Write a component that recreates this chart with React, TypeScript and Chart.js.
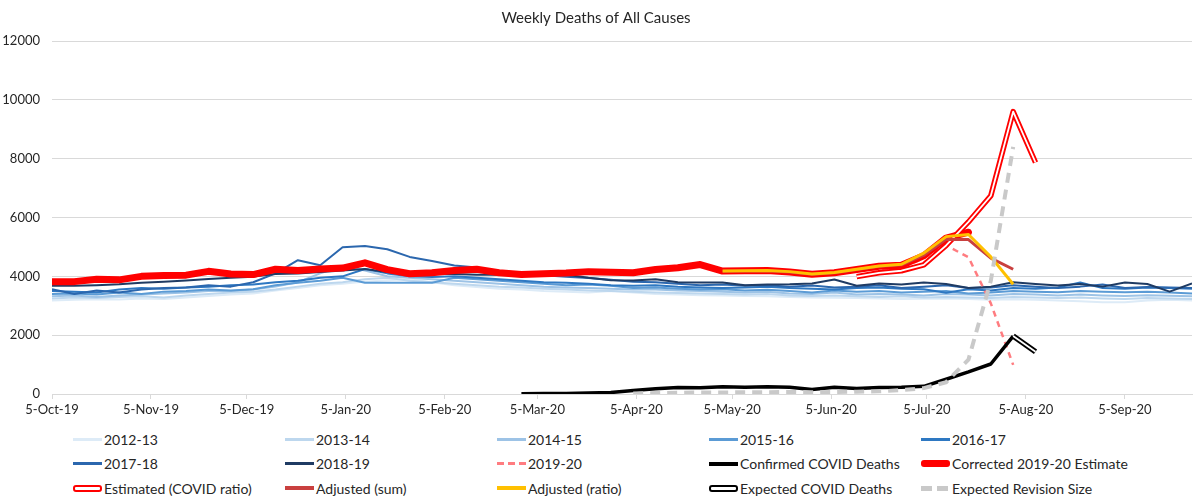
import { useEffect, useRef } from "react";
import { Chart, registerables, ChartConfiguration } from "chart.js";

Chart.register(...registerables);

const weekDates = [
  "2019-10-05", "2019-10-12", "2019-10-19", "2019-10-26",
  "2019-11-02", "2019-11-09", "2019-11-16", "2019-11-23", "2019-11-30",
  "2019-12-07", "2019-12-14", "2019-12-21", "2019-12-28",
  "2020-01-04", "2020-01-11", "2020-01-18", "2020-01-25",
  "2020-02-01", "2020-02-08", "2020-02-15", "2020-02-22", "2020-02-29",
  "2020-03-07", "2020-03-14", "2020-03-21", "2020-03-28",
  "2020-04-04", "2020-04-11", "2020-04-18", "2020-04-25",
  "2020-05-02", "2020-05-09", "2020-05-16", "2020-05-23", "2020-05-30",
  "2020-06-06", "2020-06-13", "2020-06-20", "2020-06-27",
  "2020-07-04", "2020-07-11", "2020-07-18", "2020-07-25",
  "2020-08-01", "2020-08-08", "2020-08-15", "2020-08-22", "2020-08-29",
  "2020-09-05", "2020-09-12", "2020-09-19", "2020-09-26",
];

const tickDates = [
  "2019-10-05", "2019-11-05", "2019-12-05", "2020-01-05", "2020-02-05", "2020-03-05",
  "2020-04-05", "2020-05-05", "2020-06-05", "2020-07-05", "2020-08-05", "2020-09-05",
];
const tickLabels = [
  "5-Oct-19", "5-Nov-19", "5-Dec-19", "5-Jan-20", "5-Feb-20", "5-Mar-20",
  "5-Apr-20", "5-May-20", "5-Jun-20", "5-Jul-20", "5-Aug-20", "5-Sep-20",
];

// prior seasons, one value per week (52)
const y1213 = [
  3180, 3200, 3220, 3210, 3250, 3230, 3280, 3330, 3380, 3420,
  3520, 3600, 3700, 3750, 3820, 3870, 3900, 3800, 3700, 3640,
  3580, 3550, 3500, 3480, 3450, 3500, 3450, 3400, 3380, 3360,
  3350, 3330, 3320, 3300, 3280, 3270, 3260, 3250, 3230, 3240,
  3250, 3230, 3200, 3220, 3200, 3180, 3150, 3120, 3120, 3180, 3200, 3180,
];
const y1314 = [
  3250, 3280, 3260, 3300, 3320, 3280, 3350, 3400, 3450, 3480,
  3550, 3650, 3750, 3800, 3900, 3950, 3850, 3800, 3750, 3700,
  3650, 3620, 3580, 3550, 3520, 3500, 3480, 3450, 3430, 3420,
  3400, 3380, 3400, 3350, 3330, 3350, 3320, 3300, 3320, 3280,
  3300, 3280, 3260, 3300, 3280, 3260, 3280, 3250, 3230, 3260, 3250, 3230,
];
const y1415 = [
  3320, 3350, 3300, 3350, 3380, 3420, 3450, 3500, 3500, 3550,
  3650, 3800, 4100, 4350, 4200, 4000, 3950, 3900, 3850, 3800,
  3750, 3700, 3650, 3620, 3600, 3580, 3550, 3550, 3520, 3500,
  3480, 3450, 3480, 3420, 3400, 3450, 3380, 3400, 3380, 3350,
  3400, 3380, 3350, 3400, 3380, 3350, 3380, 3350, 3330, 3360, 3340, 3320,
];
const y1516 = [
  3400, 3420, 3380, 3450, 3400, 3480, 3500, 3550, 3520, 3560,
  3700, 3780, 3850, 3950, 3780, 3780, 3780, 3780, 3950, 3900,
  3850, 3800, 3750, 3700, 3720, 3680, 3600, 3620, 3580, 3550,
  3560, 3520, 3540, 3500, 3450, 3520, 3480, 3500, 3450, 3480,
  3500, 3420, 3450, 3500, 3480, 3460, 3500, 3480, 3460, 3480, 3450, 3420,
];
const y1617 = [
  3500, 3480, 3450, 3550, 3600, 3580, 3620, 3650, 3700, 3720,
  3800, 3850, 3950, 4000, 4250, 4100, 4000, 3980, 4000, 3950,
  3900, 3850, 3800, 3780, 3750, 3700, 3680, 3700, 3650, 3620,
  3600, 3620, 3650, 3600, 3580, 3550, 3600, 3620, 3580, 3560,
  3440, 3560, 3520, 3600, 3580, 3620, 3790, 3600, 3580, 3620, 3600, 3580,
];
const y1718 = [
  3560, 3400, 3520, 3450, 3550, 3600, 3620, 3700, 3650, 3800,
  4100, 4550, 4380, 4990, 5030, 4920, 4660, 4520, 4370, 4300,
  4160, 4100, 4040, 3990, 3940, 3880, 3820, 3800, 3750, 3700,
  3720, 3680, 3700, 3650, 3690, 3620, 3650, 3700, 3600, 3650,
  3700, 3600, 3620, 3700, 3650, 3600, 3650, 3720, 3600, 3640, 3620, 3600,
];
const y1819 = [
  3680, 3680, 3700, 3730, 3780, 3820, 3860, 3910, 3950, 3990,
  4080, 4100, 4150, 4200, 4250, 4150, 4100, 4080, 4080, 4050,
  4050, 4080, 4150, 4050, 3950, 3870, 3860, 3900, 3800, 3790,
  3790, 3700, 3720, 3730, 3760, 3890, 3680, 3760, 3720, 3790,
  3740, 3600, 3650, 3800, 3740, 3690, 3740, 3650, 3790, 3740, 3480, 3760,
];

// current season, starting at week 0
const y1920 = [
  3800, 3810, 3880, 3870, 3980, 4010, 4030, 4150, 4070, 4050,
  4220, 4190, 4240, 4260, 4440, 4220, 4080, 4100, 4190, 4230,
  4110, 4050, 4080, 4100, 4150, 4130, 4100, 4210, 4270, 4380,
  4160, 4170, 4180, 4130, 4050, 4090, 4190, 4250, 4280, 4620,
  5050, 4650, 3080, 990,
];
const corrected = [
  3820, 3820, 3900, 3880, 4000, 4030, 4040, 4170, 4080, 4060,
  4240, 4200, 4250, 4280, 4460, 4230, 4090, 4120, 4200, 4240,
  4120, 4060, 4090, 4110, 4160, 4140, 4120, 4230, 4290, 4400,
  4180, 4190, 4200, 4150, 4070, 4120, 4230, 4340, 4380, 4700,
  5300, 5500,
];

// partial series: first week index + values
const confirmedStart = 21;
const confirmed = [
  10, 15, 20, 30, 50, 120, 180, 220, 210, 250, 230, 250,
  230, 150, 230, 190, 220, 230, 260, 500, 750, 1020, 1970,
];
const estimatedStart = 36;
const estimated = [3990, 4120, 4190, 4390, 5050, 5850, 6740, 9600, 7870];
const adjustedStart = 30;
const adjustedSum = [4170, 4180, 4190, 4150, 4070, 4120, 4230, 4340, 4390, 4720, 5260, 5250, 4620, 4240];
const adjustedRatio = [4180, 4190, 4200, 4160, 4080, 4130, 4240, 4350, 4410, 4790, 5350, 5420, 4660, 3730];
const expectedStart = 43;
const expectedCovid = [1970, 1440];
const revisionStart = 26;
const revision = [20, 30, 40, 50, 50, 60, 60, 70, 60, 70, 80, 90, 130, 200, 400, 1170, 3850, 8400];

const DAY = 86400000;
const dayOf = (d: string) => Math.round((Date.parse(d) - Date.parse(weekDates[0])) / DAY);

const pad = (start: number, vals: number[]) => {
  const out: (number | null)[] = weekDates.map(() => null);
  vals.forEach((v, i) => (out[start + i] = v));
  return out;
};
const toPoints = (vals: (number | null)[]) =>
  vals.map((v, i) => ({ x: dayOf(weekDates[i]), y: v }));

type Swatch = "line" | "dash" | "double" | "thick" | "gdash";
interface Item {
  label: string;
  color: string;
  swatch: Swatch;
  width: number;
}

const legendItems: Item[] = [
  { label: "2012-13", color: "#DDEBF7", swatch: "line", width: 3 },
  { label: "2013-14", color: "#BDD7EE", swatch: "line", width: 3 },
  { label: "2014-15", color: "#9DC3E6", swatch: "line", width: 3 },
  { label: "2015-16", color: "#5B9BD5", swatch: "line", width: 3 },
  { label: "2016-17", color: "#2E78C2", swatch: "line", width: 3 },
  { label: "2017-18", color: "#2B67AE", swatch: "line", width: 3 },
  { label: "2018-19", color: "#1F3B63", swatch: "line", width: 3 },
  { label: "2019-20", color: "#FF7C80", swatch: "dash", width: 3 },
  { label: "Confirmed COVID Deaths", color: "#000000", swatch: "line", width: 4 },
  { label: "Corrected 2019-20 Estimate", color: "#FF0000", swatch: "thick", width: 7 },
  { label: "Estimated (COVID ratio)", color: "#FF0000", swatch: "double", width: 7 },
  { label: "Adjusted (sum)", color: "#C9403F", swatch: "line", width: 4 },
  { label: "Adjusted (ratio)", color: "#FFC000", swatch: "line", width: 4 },
  { label: "Expected COVID Deaths", color: "#000000", swatch: "double", width: 7 },
  { label: "Expected Revision Size", color: "#C9C9C9", swatch: "gdash", width: 5 },
];

const SwatchBox = ({ it }: { it: Item }) => {
  const base: React.CSSProperties = { width: 29, height: it.width, flex: "none" };
  if (it.swatch === "dash")
    return <div style={{ ...base, background: `repeating-linear-gradient(to right, ${it.color} 0 7px, transparent 7px 11px)` }} />;
  if (it.swatch === "gdash")
    return <div style={{ ...base, background: `repeating-linear-gradient(to right, ${it.color} 0 11px, transparent 11px 16px)` }} />;
  if (it.swatch === "double")
    return <div style={{ ...base, boxSizing: "border-box", border: `2px solid ${it.color}`, background: "#fff", borderRadius: 3 }} />;
  if (it.swatch === "thick") return <div style={{ ...base, background: it.color, borderRadius: 3 }} />;
  return <div style={{ ...base, background: it.color }} />;
};

const line = (label: string, data: (number | null)[], color: string, width: number, order: number, extra = {}) => ({
  label,
  data: toPoints(data),
  borderColor: color,
  backgroundColor: color,
  borderWidth: width,
  pointRadius: 0,
  tension: 0,
  fill: false,
  spanGaps: false,
  borderJoinStyle: "round" as const,
  order,
  ...extra,
});

const App = () => {
  const canvasRef = useRef<HTMLCanvasElement>(null);

  useEffect(() => {
    if (!canvasRef.current) return;
    const lastDay = dayOf(weekDates[weekDates.length - 1]);

    const config: ChartConfiguration = {
      type: "line",
      data: {
        datasets: [
          line("2012-13", y1213, "#DDEBF7", 2, 40),
          line("2013-14", y1314, "#BDD7EE", 2, 39),
          line("2014-15", y1415, "#9DC3E6", 2, 38),
          line("2015-16", y1516, "#5B9BD5", 2, 37),
          line("2016-17", y1617, "#2E78C2", 2, 36),
          line("2017-18", y1718, "#2B67AE", 2, 35),
          line("2018-19", y1819, "#1F3B63", 2, 34),
          line("2019-20", pad(0, y1920), "#FF7C80", 2.5, 33, { borderDash: [6, 5] }),
          line("Confirmed COVID Deaths", pad(confirmedStart, confirmed), "#000000", 3.5, 32),
          line("Corrected 2019-20 Estimate", pad(0, corrected), "#FF0000", 7, 31, { borderCapStyle: "round" }),
          line("Estimated (COVID ratio)", pad(estimatedStart, estimated), "#FF0000", 5.5, 30),
          line("Estimated inner", pad(estimatedStart, estimated), "#FFFFFF", 1.8, 29),
          line("Adjusted (sum)", pad(adjustedStart, adjustedSum), "#C9403F", 3, 28),
          line("Adjusted (ratio)", pad(adjustedStart, adjustedRatio), "#FFC000", 3, 27),
          line("Expected COVID Deaths", pad(expectedStart, expectedCovid), "#000000", 5.5, 26),
          line("Expected inner", pad(expectedStart, expectedCovid), "#FFFFFF", 1.8, 25),
          line("Expected Revision Size", pad(revisionStart, revision), "#C9C9C9", 4, 24, { borderDash: [10, 7] }),
        ],
      },
      options: {
        responsive: false,
        animation: false,
        layout: { padding: { left: 0, right: 8, top: 0, bottom: 0 } },
        plugins: {
          legend: { display: false },
          tooltip: { enabled: false },
          title: {
            display: true,
            text: "Weekly Deaths of All Causes",
            color: "#262626",
            font: { size: 15, family: "Lato", weight: "normal" },
            padding: { top: 9, bottom: 14 },
          },
        },
        scales: {
          x: {
            type: "linear",
            min: 0,
            max: lastDay,
            afterBuildTicks: (s) => {
              s.ticks = tickDates.map((d) => ({ value: dayOf(d) }));
            },
            afterFit: (s) => {
              s.height = 31;
            },
            ticks: {
              autoSkip: false,
              maxRotation: 0,
              padding: 3,
              color: "#262626",
              font: { size: 13, family: "Lato" },
              callback: (_v, i) => tickLabels[i],
            },
            grid: { drawOnChartArea: false, drawTicks: true, tickLength: 5, color: "#D9D9D9" },
            border: { color: "#D9D9D9" },
          },
          y: {
            min: 0,
            max: 12000,
            afterFit: (s) => {
              s.width = 52;
            },
            ticks: {
              stepSize: 2000,
              padding: 12,
              color: "#262626",
              font: { size: 13, family: "Lato" },
              callback: (v) => String(v),
            },
            grid: { color: "#D9D9D9", drawTicks: false },
            border: { display: false },
          },
        },
      },
    };

    const chart = new Chart(canvasRef.current, config);
    return () => chart.destroy();
  }, []);

  return (
    <div style={{ position: "absolute", left: 0, top: 0, width: 1200, height: 498, background: "#fff" }}>
      <canvas ref={canvasRef} width={1200} height={425} style={{ display: "block" }} />
      <div
        style={{
          position: "absolute",
          left: 0,
          top: 425,
          width: 1200,
          height: 73,
          fontFamily: "Lato",
          fontSize: 14,
          color: "#262626",
        }}
      >
        {legendItems.map((it, i) => (
          <div
            key={it.label}
            style={{
              position: "absolute",
              left: 73 + (i % 5) * 212,
              top: 3 + Math.floor(i / 5) * 24.5,
              height: 22,
              display: "flex",
              alignItems: "center",
              whiteSpace: "nowrap",
            }}
          >
            <SwatchBox it={it} />
            <span style={{ marginLeft: 2 }}>{it.label}</span>
          </div>
        ))}
      </div>
    </div>
  );
};

export default App;
